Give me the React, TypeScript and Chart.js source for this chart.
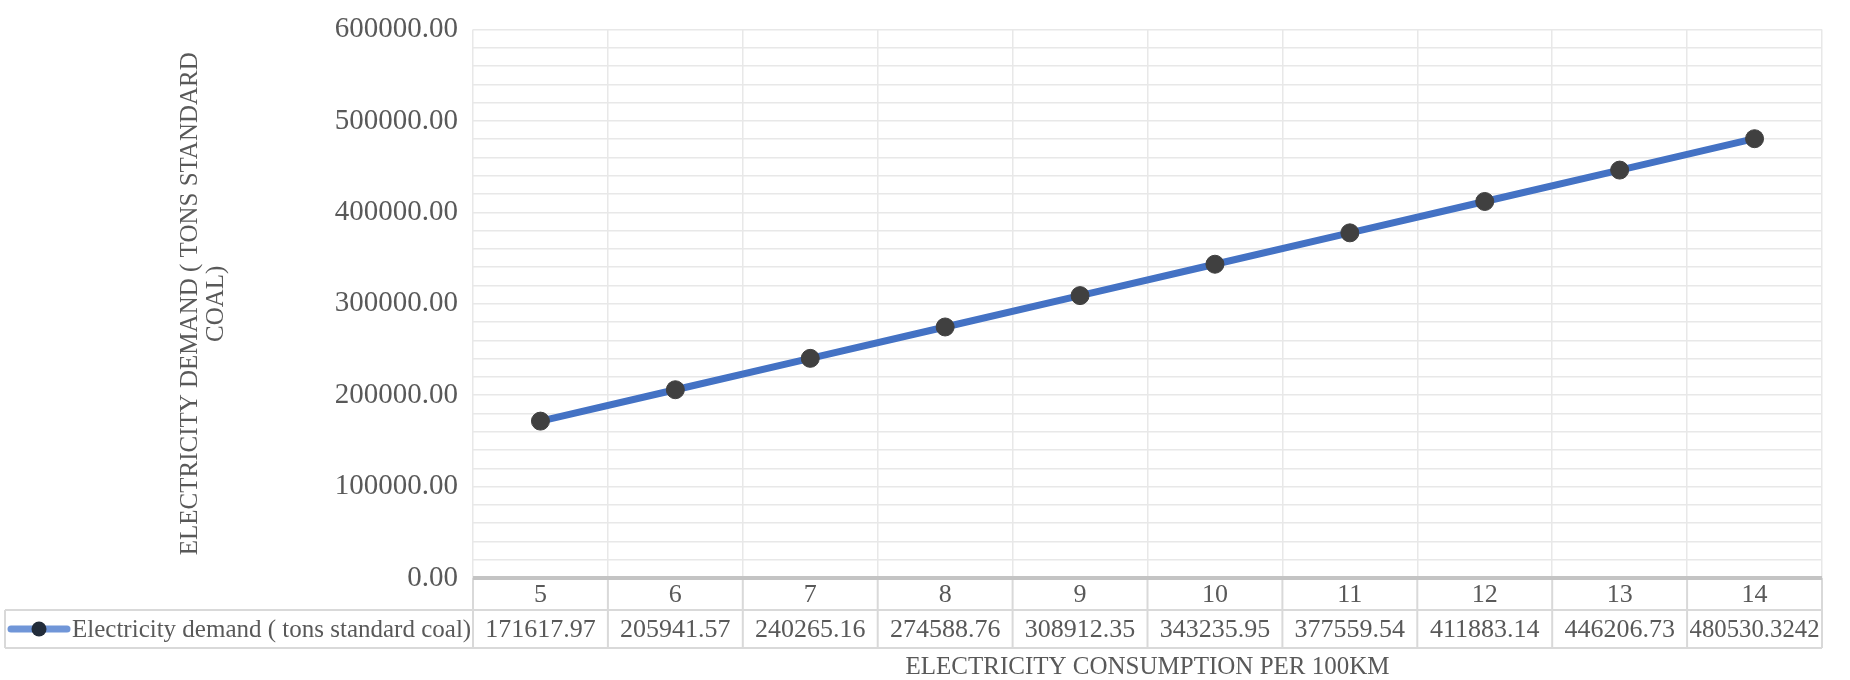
import React, { useEffect, useRef } from "react";
import { Chart, registerables } from "chart.js";

Chart.register(...registerables);

const categories = ["5", "6", "7", "8", "9", "10", "11", "12", "13", "14"];
const demandValues = [
  171617.97, 205941.57, 240265.16, 274588.76, 308912.35, 343235.95, 377559.54,
  411883.14, 446206.73, 480530.3242,
];
const seriesName = "Electricity demand ( tons standard coal)";
const yTitleLines = ["ELECTRICITY DEMAND ( TONS STANDARD", "COAL)"];
const xTitle = "ELECTRICITY CONSUMPTION PER 100KM";
const yMax = 600000;
const yMajorStep = 100000;
const yMinorStep = 20000;

const FONT = "'Liberation Serif', 'Times New Roman', serif";
const TEXT = "#595959";
const GRID = "#e8e8e8";
const BORDER = "#d9d9d9";

const tablePlugin = {
  id: "dataTable",
  afterDraw(chart: any) {
    const { ctx, chartArea: ca, scales } = chart;
    const x = scales.x;
    const n = categories.length;
    const colW = (ca.right - ca.left) / n;
    const headTop = ca.bottom;
    const rowMid = headTop + 32;
    const rowBot = rowMid + 38;
    const tableLeft = 5;
    ctx.save();
    ctx.strokeStyle = BORDER;
    ctx.lineWidth = 2;
    ctx.beginPath();
    ctx.moveTo(tableLeft, rowMid);
    ctx.lineTo(ca.right, rowMid);
    ctx.moveTo(tableLeft, rowBot);
    ctx.lineTo(ca.right, rowBot);
    ctx.moveTo(tableLeft, rowMid);
    ctx.lineTo(tableLeft, rowBot);
    for (let i = 0; i <= n; i++) {
      const bx = ca.left + i * colW;
      ctx.moveTo(bx, headTop);
      ctx.lineTo(bx, rowBot);
    }
    ctx.stroke();
    ctx.strokeStyle = "#c4c4c4";
    ctx.lineWidth = 4;
    ctx.beginPath();
    ctx.moveTo(ca.left, headTop);
    ctx.lineTo(ca.right, headTop);
    ctx.stroke();
    ctx.fillStyle = TEXT;
    ctx.textAlign = "center";
    ctx.textBaseline = "middle";
    for (let i = 0; i < n; i++) {
      const cx = x.getPixelForValue(i);
      ctx.font = `26px ${FONT}`;
      ctx.fillText(categories[i], cx, (headTop + rowMid) / 2 + 1);
      ctx.fillText(String(demandValues[i]), cx, (rowMid + rowBot) / 2 + 1, colW - 5);
    }
    const ly = (rowMid + rowBot) / 2;
    ctx.strokeStyle = "#7096d8";
    ctx.lineWidth = 7;
    ctx.lineCap = "round";
    ctx.beginPath();
    ctx.moveTo(11, ly);
    ctx.lineTo(67, ly);
    ctx.stroke();
    ctx.fillStyle = "#222c3a";
    ctx.beginPath();
    ctx.arc(39, ly, 7.5, 0, Math.PI * 2);
    ctx.fill();
    ctx.fillStyle = TEXT;
    ctx.textAlign = "left";
    ctx.font = `25px ${FONT}`;
    ctx.fillText(seriesName, 72, ly + 1);
    ctx.restore();
  },
};

export default function App() {
  const canvasRef = useRef<HTMLCanvasElement | null>(null);

  useEffect(() => {
    document.body.style.margin = "0";
    const canvas = canvasRef.current;
    if (!canvas) return;
    const chart = new Chart(canvas, {
      type: "line",
      data: {
        labels: categories,
        datasets: [
          {
            label: seriesName,
            data: demandValues,
            borderColor: "#4472c4",
            borderWidth: 7,
            pointRadius: 9,
            pointBackgroundColor: "#404040",
            pointBorderColor: "#404040",
            pointBorderWidth: 1,
            tension: 0,
          },
        ],
      },
      options: {
        responsive: false,
        animation: false,
        layout: { padding: { top: 0, right: 28, left: 0, bottom: 0 } },
        plugins: {
          legend: { display: false },
          tooltip: { enabled: false },
        },
        scales: {
          x: {
            type: "category",
            offset: true,
            grid: { offset: true, color: GRID, lineWidth: 1.5, drawTicks: false },
            border: { display: false },
            ticks: { display: false },
            title: {
              display: true,
              text: xTitle,
              color: TEXT,
              font: { family: FONT, size: 25, lineHeight: 1.0 },
              padding: { top: 0, bottom: 0 },
            },
            afterFit(scale: any) {
              scale.height = 102;
            },
          },
          y: {
            min: 0,
            max: yMax,
            grid: { color: GRID, lineWidth: 1.5, drawTicks: false },
            border: { display: false },
            ticks: {
              stepSize: yMinorStep,
              maxTicksLimit: 40,
              autoSkip: false,
              padding: 15,
              color: TEXT,
              font: { family: FONT, size: 29, lineHeight: 1.0 },
              callback: (v: any) => (Number(v) % yMajorStep === 0 ? Number(v).toFixed(2) : ""),
            },
            title: {
              display: true,
              text: yTitleLines,
              color: TEXT,
              font: { family: FONT, size: 25, lineHeight: 1.05 },
              padding: { top: 177, bottom: 0 },
            },
            afterFit(scale: any) {
              scale.width = 473;
            },
          },
        },
      },
      plugins: [tablePlugin],
    });
    return () => chart.destroy();
  }, []);

  return (
    <div style={{ width: 1850, height: 680, background: "#fff" }}>
      <canvas ref={canvasRef} width={1850} height={680} style={{ display: "block" }} />
    </div>
  );
}
